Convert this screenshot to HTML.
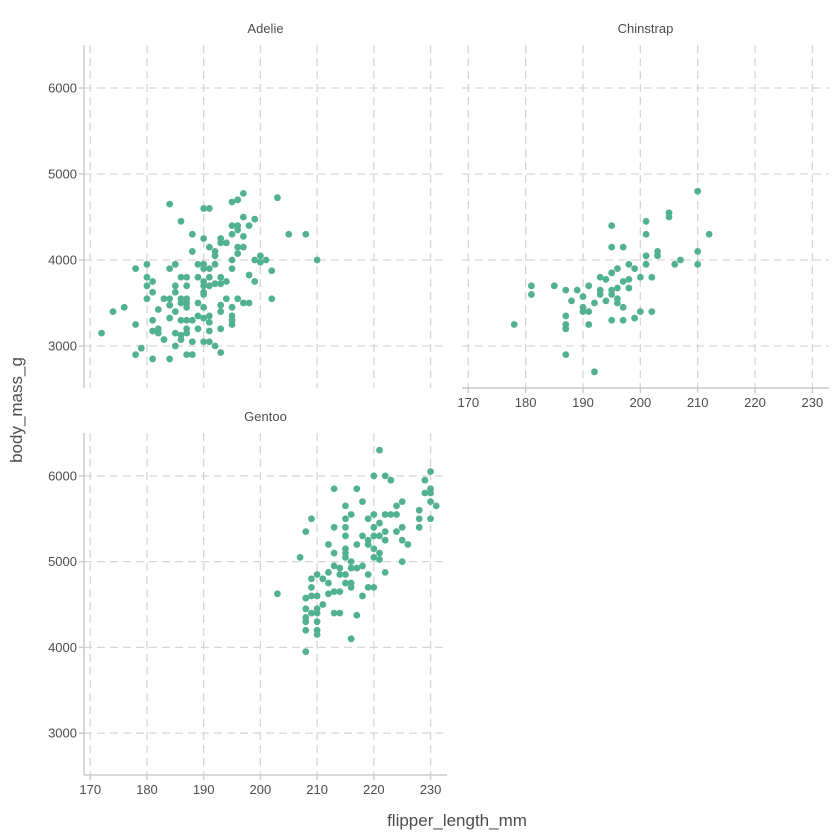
<!DOCTYPE html>
<html><head><meta charset="utf-8"><style>
body{margin:0;background:#fff;}
svg{display:block;font-family:"Liberation Sans",sans-serif;}
</style></head><body>
<svg id="chart" width="840" height="840" xmlns="http://www.w3.org/2000/svg"></svg>
<script>
const xTicks = [170,180,190,200,210,220,230];
const yTicks = [3000,4000,5000,6000];
const species = ["Adelie","Chinstrap","Gentoo"];
const adelieFlipper = [197,203,184,190,191,195,196,186,197,199,198,195,196,196,188,190,193,195,197,205,208,193,194,191,196,197,188,192,196,192,195,199,200,200,201,210,180,178,184,185,189,190,190,191,192,195,202,180,181,186,187,189,191,193,194,198,199,180,185,187,190,190,191,192,193,181,185,190,180,183,184,186,187,190,194,196,197,198,202,184,186,187,189,190,193,193,195,174,176,182,185,187,181,184,186,187,188,189,190,191,191,195,195,195,178,181,182,182,185,187,187,189,191,193,172,183,185,186,186,188,190,191,192,193,179,178,181,184,187,188];
const adelieMass = [4775,4725,4650,4600,4600,4675,4700,4450,4500,4475,4400,4400,4400,4350,4300,4250,4250,4300,4275,4300,4300,4200,4200,4150,4150,4150,4100,4100,4075,4050,4000,4000,4050,3975,4000,4000,3950,3900,3900,3950,3950,3950,3900,3900,3950,3900,3875,3800,3750,3800,3800,3800,3800,3800,3750,3825,3750,3700,3700,3700,3750,3700,3700,3725,3725,3625,3625,3625,3550,3550,3550,3550,3550,3600,3550,3550,3500,3500,3550,3475,3500,3500,3500,3450,3475,3400,3450,3400,3450,3425,3400,3450,3300,3325,3300,3300,3300,3350,3325,3350,3275,3350,3300,3250,3250,3175,3200,3150,3150,3200,3150,3200,3175,3200,3150,3075,3000,3075,3125,3050,3050,3050,3000,2925,2975,2900,2850,2850,2900,2900];
const chinFlipper = [210,205,205,201,212,195,201,195,197,203,203,201,210,207,206,210,201,198,196,199,195,193,194,200,202,198,197,198,196,195,193,191,189,187,185,181,181,193,195,190,188,194,196,196,192,197,190,190,191,200,202,199,197,195,187,187,187,191,178,187,192];
const chinMass = [4800,4550,4500,4450,4300,4400,4300,4150,4150,4100,4050,4050,4100,4000,3950,3950,3950,3950,3900,3900,3850,3800,3775,3800,3800,3775,3750,3675,3675,3650,3650,3700,3650,3650,3700,3700,3600,3600,3600,3575,3525,3525,3550,3500,3500,3450,3450,3400,3400,3400,3400,3325,3300,3300,3350,3250,3200,3250,3250,2900,2700];
const gentooFlipper = [221,220,222,223,230,229,230,229,230,213,217,218,215,225,224,230,231,228,216,222,223,224,220,219,215,209,228,230,221,208,213,215,220,225,228,224,222,215,218,220,221,219,222,225,226,212,217,219,215,220,213,215,221,207,215,220,221,225,216,213,214,217,218,216,215,214,212,219,222,210,209,211,212,215,216,216,219,220,209,210,208,209,214,212,213,218,211,210,208,209,210,208,208,210,213,214,217,208,210,210,216,208,203];
const gentooMass = [6300,6000,6000,5950,6050,5950,5850,5800,5800,5850,5850,5700,5650,5700,5650,5700,5650,5600,5550,5550,5550,5550,5550,5500,5500,5500,5500,5500,5450,5350,5400,5400,5400,5400,5400,5350,5350,5300,5300,5300,5300,5250,5250,5250,5200,5200,5200,5200,5150,5150,5100,5100,5100,5050,5050,5050,5025,5000,5000,4950,4925,4925,4950,4925,4850,4850,4875,4850,4875,4850,4800,4800,4750,4750,4750,4700,4700,4700,4700,4600,4575,4600,4650,4625,4650,4600,4500,4450,4450,4400,4400,4350,4300,4300,4400,4400,4375,4200,4200,4150,4100,3950,4625];

const svg = document.getElementById('chart');
const NS = 'http://www.w3.org/2000/svg';
function mk(tag, attrs, parent){const e=document.createElementNS(NS,tag);for(const k in attrs)e.setAttribute(k,attrs[k]);(parent||svg).appendChild(e);return e;}

const X0=168.9, X1=232.9, Y0=2512, Y1=6500;
const panels = [
  {name:"Adelie", left:84, right:447, top:45, bottom:388, xs:adelieFlipper, ys:adelieMass, yAxis:true, xAxis:false},
  {name:"Chinstrap", left:462, right:829, top:45, bottom:388, xs:chinFlipper, ys:chinMass, yAxis:false, xAxis:true},
  {name:"Gentoo", left:84, right:447, top:433, bottom:775, xs:gentooFlipper, ys:gentooMass, yAxis:true, xAxis:true}
];

panels.forEach(p=>{
  const g = mk('g',{});
  
  
  const sx = v => p.left + (v - X0)/(X1 - X0)*(p.right - p.left);
  const sy = v => p.bottom - (v - Y0)/(Y1 - Y0)*(p.bottom - p.top);
  // grid
  xTicks.forEach(t=>{
    const l = mk('line',{x1:sx(t),x2:sx(t),y1:p.top,y2:p.bottom,stroke:'#d6d6d6','stroke-width':1.3,'stroke-dasharray':'8,5'},g);
    
    
  });
  yTicks.forEach(t=>{
    const l = mk('line',{x1:p.left,x2:p.right,y1:sy(t),y2:sy(t),stroke:'#d6d6d6','stroke-width':1.3,'stroke-dasharray':'8,5'},g);
    
    
  });
  // strip title
  const st = mk('text',{x:(p.left+p.right)/2,y:p.top-12,'text-anchor':'middle','font-size':13,fill:'#4d4d4d'},g);
  st.textContent = p.name;
  
  
  if(p.yAxis){
    const a = mk('line',{x1:p.left,x2:p.left,y1:p.top,y2:p.bottom,stroke:'#cccccc','stroke-width':1.5},g);
    
    
    yTicks.forEach(t=>{
      mk('line',{x1:p.left-5,x2:p.left,y1:sy(t),y2:sy(t),stroke:'#cccccc','stroke-width':1.5},g);
      const tx = mk('text',{x:p.left-7,y:sy(t)+4.5,'text-anchor':'end','font-size':13,fill:'#4d4d4d'},g);
      tx.textContent = t;
      
      
    });
  }
  if(p.xAxis){
    const a = mk('line',{x1:p.left,x2:p.right,y1:p.bottom,y2:p.bottom,stroke:'#cccccc','stroke-width':1.5},g);
    
    
    xTicks.forEach(t=>{
      mk('line',{x1:sx(t),x2:sx(t),y1:p.bottom,y2:p.bottom+5,stroke:'#cccccc','stroke-width':1.5},g);
      const tx = mk('text',{x:sx(t),y:p.bottom+19,'text-anchor':'middle','font-size':13,fill:'#4d4d4d'},g);
      tx.textContent = t;
      
      
    });
  }
  p.xs.forEach((v,i)=>{
    const c = mk('circle',{cx:sx(v),cy:sy(p.ys[i]),r:3.4,fill:'#52b192'},g);
    
    
  });
});

const xt = mk('text',{x:457,y:826,'text-anchor':'middle','font-size':17,fill:'#4d4d4d'});
xt.textContent='flipper_length_mm';


const yt = mk('text',{x:0,y:0,'text-anchor':'middle','font-size':17,fill:'#4d4d4d',transform:'translate(22,410) rotate(-90)'});
yt.textContent='body_mass_g';


</script>
</body></html>
